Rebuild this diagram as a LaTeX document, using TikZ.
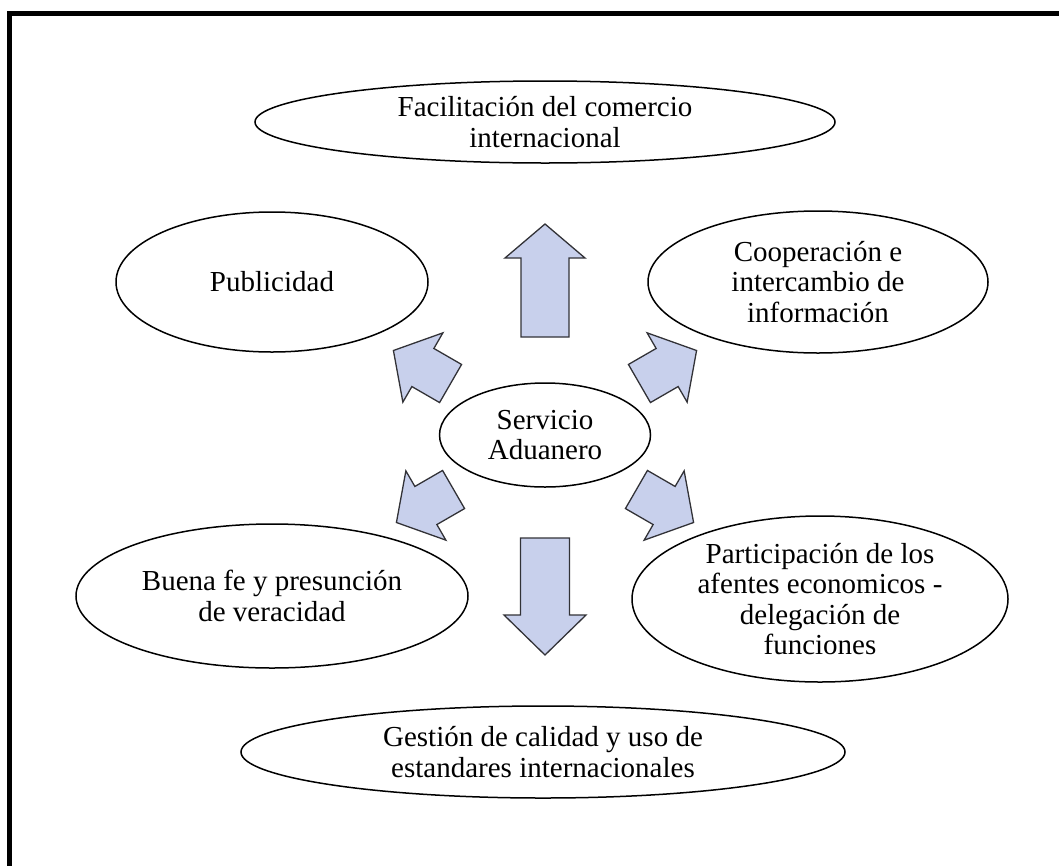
\documentclass[tikz,border=0pt]{standalone}
\usepackage{fontspec}
\setmainfont{Liberation Serif}
\usetikzlibrary{shapes.geometric}
\definecolor{arrowfill}{RGB}{200,208,236}
\definecolor{arrowedge}{RGB}{50,50,55}
\tikzset{
  bubble/.style={ellipse, draw=black, line width=1.5pt, inner sep=0pt, align=center,
    font=\fontsize{29}{30.5}\selectfont},
  blockarrow/.style={fill=arrowfill, draw=arrowedge, line width=1.3pt, line join=miter}
}
\begin{document}
\begin{tikzpicture}[x=1pt,y=-1pt]
\useasboundingbox (0,0) rectangle (1059,865);
% frame
\draw[line width=5.5pt] (9.5,900) -- (9.5,13.5) -- (1100,13.5);
% ellipses
\node[bubble, minimum width=580pt, minimum height=82pt] (top) at (545,122) {Facilitación del comercio\\internacional};
\node[bubble, minimum width=312pt, minimum height=140pt] (pub) at (272,282) {Publicidad};
\node[bubble, minimum width=340pt, minimum height=142pt] (coop) at (818,282) {Cooperación e\\intercambio de\\información};
\node[bubble, minimum width=211pt, minimum height=104pt] (serv) at (545,435) {Servicio\\Aduanero};
\node[bubble, minimum width=392pt, minimum height=144pt] (buena) at (272,596) {Buena fe y presunción\\de veracidad};
\node[bubble, minimum width=376pt, minimum height=166pt] (part) at (820,599) {Participación de los\\afentes economicos -\\delegación de\\funciones};
\node[bubble, minimum width=604pt, minimum height=92pt] (gest) at (543,752) {Gestión de calidad y uso de\\estandares internacionales};
% block arrows (local shape points along +x)
\begin{scope}[shift={(545,280.5)}, rotate=90]
\draw[blockarrow] (-56.5,-24) -- (22.5,-24) -- (22.5,-40) -- (56.5,0) -- (22.5,40) -- (22.5,24) -- (-56.5,24) -- cycle;
\end{scope}
\begin{scope}[shift={(545,596.5)}, rotate=-90]
\draw[blockarrow] (-58.5,-24.5) -- (18.5,-24.5) -- (18.5,-41) -- (58.5,0) -- (18.5,41) -- (18.5,24.5) -- (-58.5,24.5) -- cycle;
\end{scope}
\foreach \cx/\cy/\ang in {422/367/150, 668/367/30, 425/506/210, 665/506/-30}{
\begin{scope}[shift={(\cx,\cy)}, rotate=\ang]
\draw[blockarrow] (-33,-22) -- (-1,-22) -- (-1,-40) -- (33,0) -- (-1,40) -- (-1,22) -- (-33,22) -- cycle;
\end{scope}
}
\end{tikzpicture}
\end{document}
